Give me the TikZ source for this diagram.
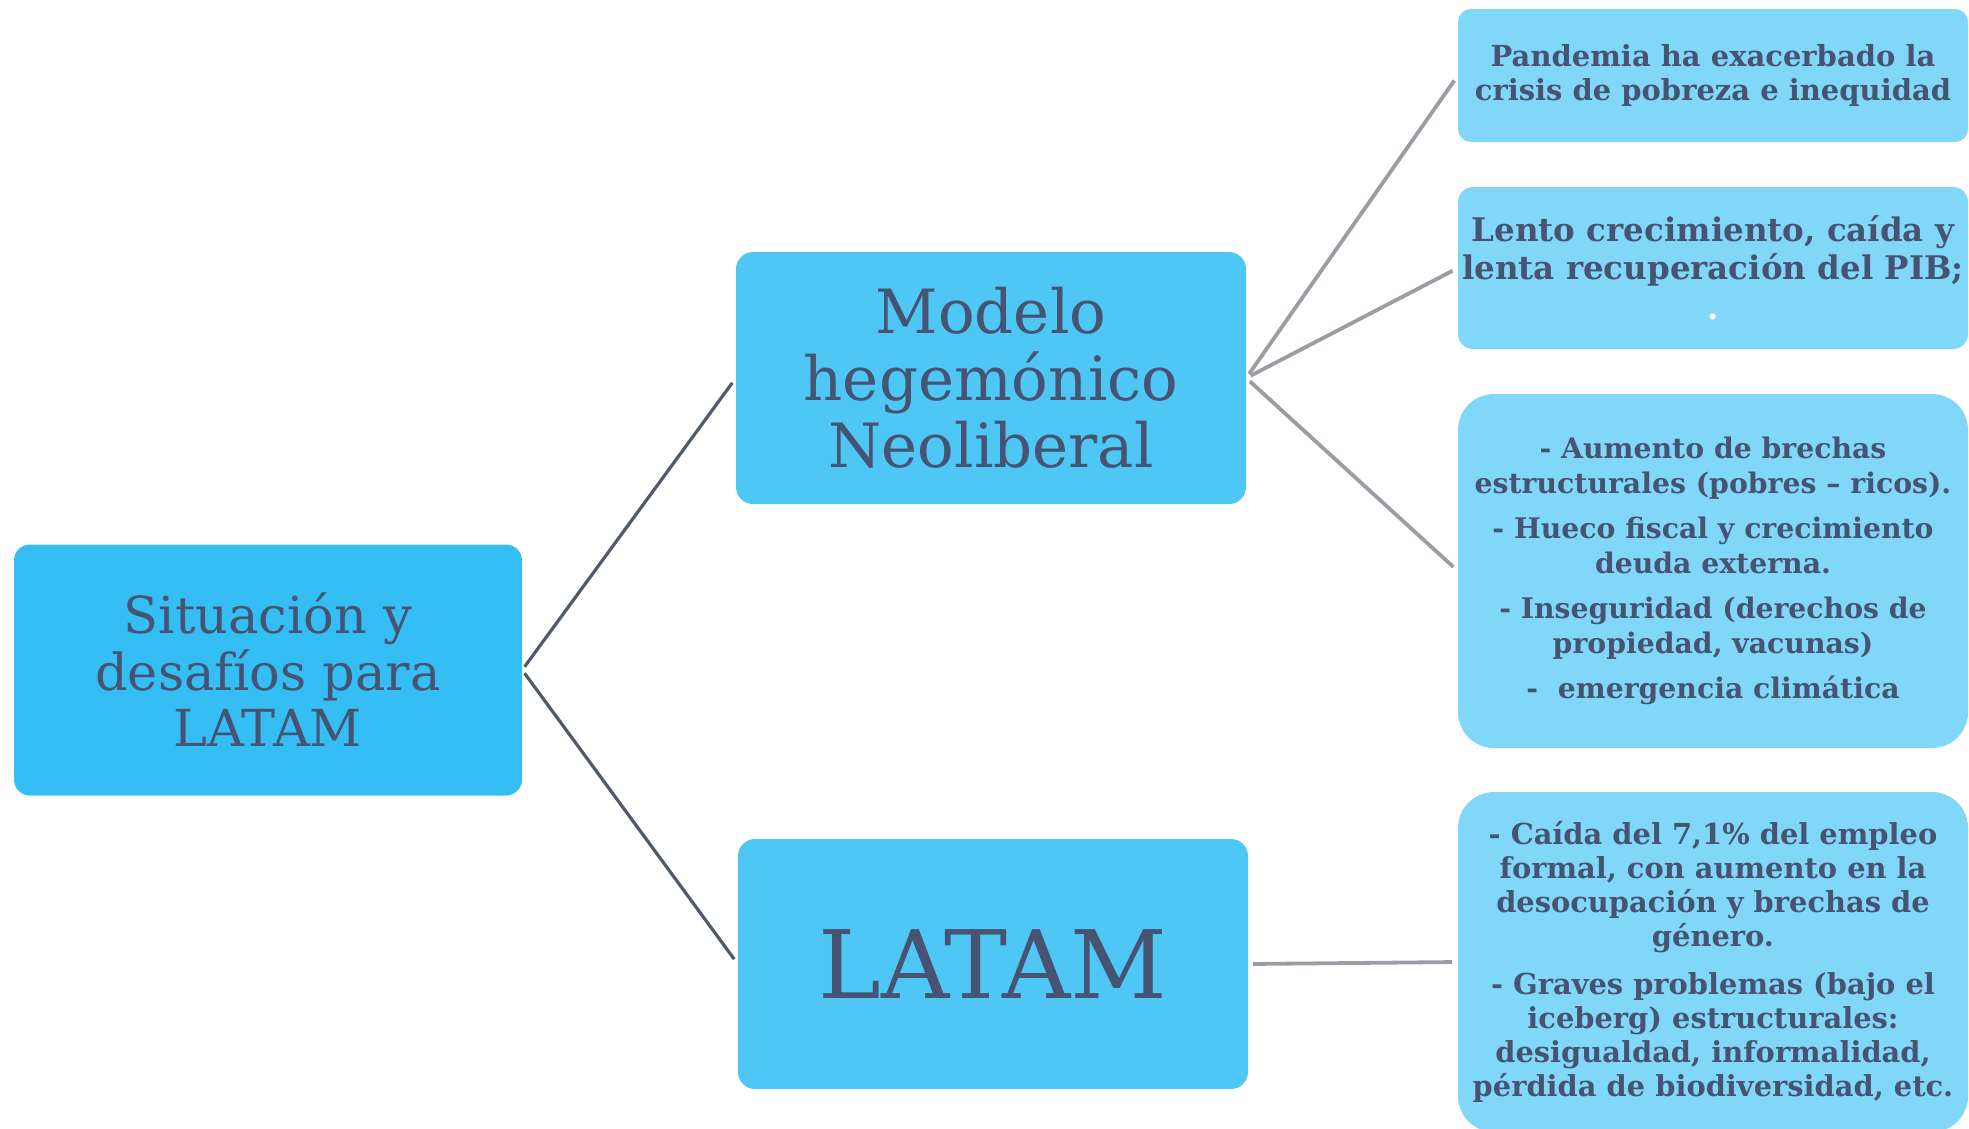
\documentclass[tikz,border=0pt]{standalone}
\usepackage{fontspec}
\setmainfont{DejaVu Serif}
\definecolor{txt}{HTML}{475372}
\definecolor{rootfill}{HTML}{35BEF3}
\definecolor{midfill}{HTML}{4EC7F4}
\definecolor{leaffill}{HTML}{81D7F8}
\definecolor{darkline}{HTML}{505A69}
\definecolor{greyline}{HTML}{9B9CA4}
\begin{document}
\begin{tikzpicture}[x=1pt,y=-1pt,
  basebox/.style={inner sep=0pt,align=center,text=txt,minimum width=510pt},
  rootbox/.style={basebox,fill=rootfill,rounded corners=16pt,minimum width=508pt,minimum height=251pt,font={\fontsize{51}{56.5}\selectfont}},
  midbox/.style={basebox,fill=midfill,rounded corners=17pt,minimum height=252pt},
  leafbox/.style={basebox,fill=leaffill,font={\bfseries\fontsize{29}{34}\selectfont}},
  darkconn/.style={draw=darkline,line width=3.2pt},
  greyconn/.style={draw=greyline,line width=3.8pt}]
\useasboundingbox (0,0) rectangle (1969,1128);
\node[rootbox] (root) at (268,670) {Situación y\\desafíos para\\LATAM};
\node[midbox,font={\fontsize{61}{67}\selectfont}] (modelo) at (991,378) {Modelo\\hegemónico\\Neoliberal};
\node[midbox,minimum height=250pt,font={\fontsize{94.5}{100}\selectfont}] (latam) at (993,964) {LATAM};
\node[leafbox,minimum height=133pt,rounded corners=13pt] (b1) at (1713,75.5) {Pandemia ha exacerbado la\\crisis de pobreza e inequidad};
\node[leafbox,minimum height=162pt,rounded corners=15pt,font={\bfseries\fontsize{32.5}{38}\selectfont}] (b2) at (1713,268) {Lento crecimiento, caída y\\lenta recuperación del PIB;\\[2pt]\textcolor{white}{.}};
\node[leafbox,minimum height=354pt,rounded corners=36pt,font={\bfseries\fontsize{28.3}{35}\selectfont}] (b3) at (1713,571) {- Aumento de brechas\\estructurales (pobres – ricos).\\[10pt]- Hueco fiscal y crecimiento\\deuda externa.\\[10pt]- Inseguridad (derechos de\\propiedad, vacunas)\\[10pt]-~~emergencia climática};
\node[leafbox,minimum height=340pt,rounded corners=36pt,font={\bfseries\fontsize{28.9}{34}\selectfont}] (b4) at (1713,962) {- Caída del 7,1\% del empleo\\formal, con aumento en la\\desocupación y brechas de\\género.\\[14pt]- Graves problemas (bajo el\\iceberg) estructurales:\\desigualdad, informalidad,\\pérdida de biodiversidad, etc.};
\draw[darkconn,shorten <=4pt,shorten >=6pt] (root.east) -- (modelo.west);
\draw[darkconn,shorten <=4pt,shorten >=6pt] (root.east) -- (latam.west);
\draw[greyconn,shorten <=5pt,shorten >=6pt] (modelo.east) -- (b1.west);
\draw[greyconn,shorten <=5pt,shorten >=6pt] (modelo.east) -- (b2.west);
\draw[greyconn,shorten <=5pt,shorten >=6pt] (modelo.east) -- (b3.west);
\draw[greyconn,shorten <=5pt,shorten >=6pt] (latam.east) -- (b4.west);
\end{tikzpicture}
\end{document}
